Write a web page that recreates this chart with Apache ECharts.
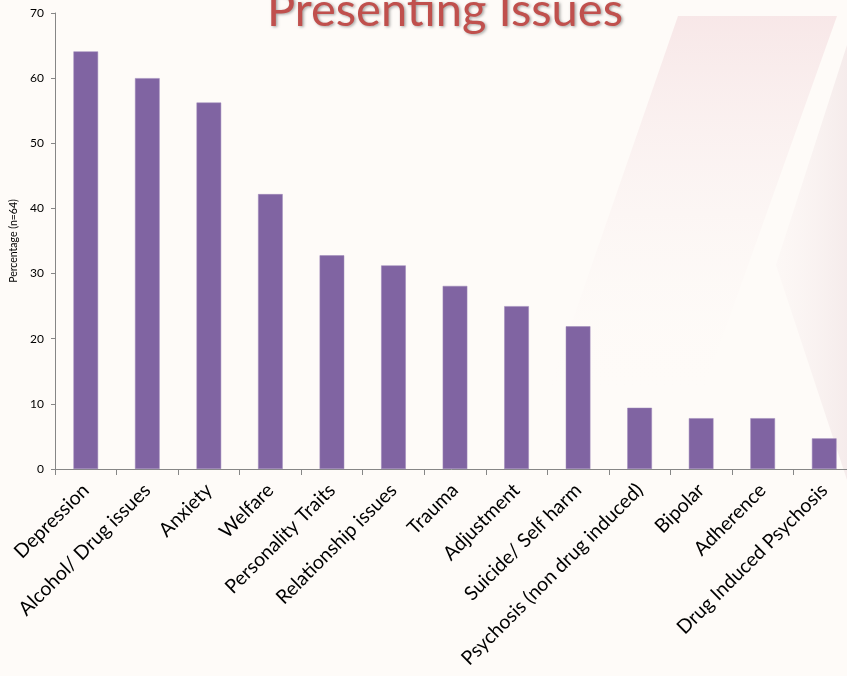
<!DOCTYPE html>
<html>
<head>
<meta charset="utf-8">
<script src="https://cdn.jsdelivr.net/npm/echarts@6/dist/echarts.min.js"></script>
<style>
html,body{margin:0;padding:0;background:#FEFBF8;}
#c{width:847px;height:676px;}
</style>
</head>
<body>
<div id="c"></div>
<script>
const categories = ["Depression","Alcohol/ Drug issues","Anxiety","Welfare","Personality Traits","Relationship issues","Trauma","Adjustment","Suicide/ Self harm","Psychosis (non drug induced)","Bipolar","Adherence","Drug Induced Psychosis"];
const percentages = [64.1, 60.0, 56.25, 42.2, 32.8, 31.25, 28.1, 25.0, 21.9, 9.4, 7.8, 7.8, 4.7];
const yTicks = [0, 10, 20, 30, 40, 50, 60, 70];
const titleText = "Presenting Issues";
const yAxisName = "Percentage (n=64)";

const chart = echarts.init(document.getElementById('c'), null, {renderer:'canvas'});
chart.setOption({
  backgroundColor: '#FEFBF8',
  animation: false,
  graphic: [
    {
      type: 'polygon', z: -10, silent: true,
      shape: {points: [[678,16],[837,16],[700,400],[545,400]]},
      style: {fill: new echarts.graphic.LinearGradient(0,0,0,1,[
        {offset:0,color:'rgba(236,195,202,0.35)'},
        {offset:0.5,color:'rgba(240,215,220,0.15)'},
        {offset:1,color:'rgba(254,251,248,0)'}])}
    },
    {
      type: 'polygon', z: -10, silent: true,
      shape: {points: [[847,45],[776,265],[847,480]]},
      style: {fill: new echarts.graphic.LinearGradient(1,0,0,0,[
        {offset:0,color:'rgba(225,200,205,0.3)'},
        {offset:1,color:'rgba(240,222,226,0.1)'}])}
    },
    {
      type: 'text', left: 267, top: -13, z: 10,
      style: {
        text: titleText, x: 0, y: 0,
        font: '47px Lato', fill: '#C0504D',
        textShadowColor: 'rgba(0,0,0,0.35)', textShadowBlur: 3,
        textShadowOffsetX: 1.5, textShadowOffsetY: 1.5
      }
    }
  ],
  grid: {left: 55, right: -8, top: 13, bottom: 207, outerBoundsMode: 'none'},
  xAxis: {
    type: 'category', data: categories,
    axisLine: {lineStyle: {color: '#868686', width: 1}},
    axisTick: {show: true, length: 6, lineStyle: {color: '#868686'}, alignWithLabel: false},
    axisLabel: {rotate: 45, interval: 0, fontFamily: 'Lato', fontSize: 19.5, color: '#000', margin: 18}
  },
  yAxis: {
    type: 'value', min: yTicks[0], max: yTicks[yTicks.length-1], interval: 10,
    name: yAxisName, nameLocation: 'middle', nameGap: 36, nameRotate: 90,
    nameTextStyle: {fontFamily: 'Lato', fontSize: 10.5, color: '#000'},
    axisLine: {show: true, lineStyle: {color: '#868686', width: 1}},
    axisTick: {show: true, length: 4, lineStyle: {color: '#868686'}},
    axisLabel: {fontFamily: 'Lato', fontSize: 12, color: '#000', margin: 11},
    splitLine: {show: false}
  },
  series: [{
    type: 'bar', data: percentages, barWidth: '40%',
    itemStyle: {color: '#8064A2', borderColor: '#9C86B9', borderWidth: 0.5}
  }]
});
</script>
</body>
</html>
